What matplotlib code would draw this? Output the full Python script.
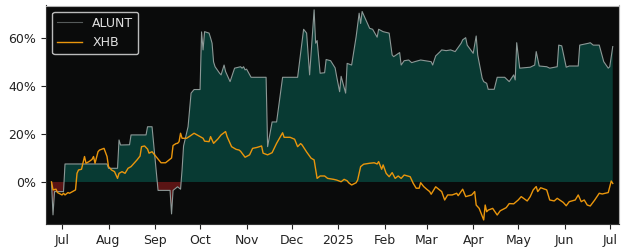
import numpy as np
import pandas as pd
import matplotlib
matplotlib.use("Agg")
from matplotlib import pyplot as plt
import matplotlib.dates as mdates
from matplotlib.ticker import FuncFormatter

# ALUNT cumulative return (%)
alunt_dates = [
    "2024-06-24", "2024-06-25", "2024-06-26", "2024-07-02", "2024-07-03", "2024-07-31",
    "2024-08-01", "2024-08-07", "2024-08-08", "2024-08-09", "2024-08-15", "2024-08-16",
    "2024-08-26", "2024-08-27", "2024-08-30", "2024-09-03", "2024-09-11", "2024-09-12",
    "2024-09-13", "2024-09-16", "2024-09-18", "2024-09-19", "2024-09-20", "2024-09-23",
    "2024-09-24", "2024-09-25", "2024-09-27", "2024-10-01", "2024-10-02", "2024-10-03",
    "2024-10-04", "2024-10-07", "2024-10-08", "2024-10-09", "2024-10-10", "2024-10-11",
    "2024-10-14", "2024-10-15", "2024-10-17", "2024-10-18", "2024-10-21", "2024-10-23",
    "2024-10-24", "2024-10-28", "2024-10-29", "2024-10-30", "2024-10-31", "2024-11-01",
    "2024-11-04", "2024-11-14", "2024-11-15", "2024-11-18", "2024-11-21", "2024-11-25",
    "2024-12-05", "2024-12-09", "2024-12-11", "2024-12-13", "2024-12-16", "2024-12-17",
    "2024-12-18", "2024-12-20", "2024-12-23", "2024-12-24", "2024-12-27", "2024-12-30",
    "2024-12-31", "2025-01-02", "2025-01-03", "2025-01-06", "2025-01-07", "2025-01-10",
    "2025-01-13", "2025-01-15", "2025-01-16", "2025-01-17", "2025-01-22", "2025-01-24",
    "2025-01-27", "2025-01-28", "2025-01-31", "2025-02-04", "2025-02-06", "2025-02-07",
    "2025-02-11", "2025-02-12", "2025-02-14", "2025-02-17", "2025-02-19", "2025-02-21",
    "2025-02-25", "2025-02-28", "2025-03-04", "2025-03-05", "2025-03-07", "2025-03-10",
    "2025-03-11", "2025-03-14", "2025-03-17", "2025-03-20", "2025-03-24", "2025-03-25",
    "2025-03-27", "2025-03-28", "2025-04-01", "2025-04-03", "2025-04-04", "2025-04-07",
    "2025-04-08", "2025-04-10", "2025-04-11", "2025-04-15", "2025-04-17", "2025-04-22",
    "2025-04-25", "2025-04-28", "2025-04-29", "2025-04-30", "2025-05-02", "2025-05-09",
    "2025-05-12", "2025-05-13", "2025-05-15", "2025-05-20", "2025-05-22", "2025-05-27",
    "2025-05-28", "2025-05-30", "2025-06-02", "2025-06-04", "2025-06-10", "2025-06-11",
    "2025-06-17", "2025-06-18", "2025-06-20", "2025-06-24", "2025-06-27", "2025-06-30",
    "2025-07-01", "2025-07-03",
]
alunt_vals = [
    0, -13.7, -4, -4, 7.5, 7.5,
    5.7, 5.7, 17.5, 15.4, 15.5, 19.6,
    19.6, 23, 23, -3.5, -3.5, -13.3,
    -3.5, -2, -3, 5, 15, 23,
    30, 37, 38.5, 38.5, 62.5, 55,
    62.6, 62, 60, 57.8, 50, 48,
    45.3, 44.6, 48.7, 46, 41.8, 45.5,
    47.4, 48, 47.4, 48, 46.7, 47,
    43.6, 43.6, 14.7, 25, 25, 43.6,
    43.6, 63.6, 62, 44.6, 71.7, 57.8,
    58.9, 45.3, 45.5, 51, 50.5, 47.5,
    44, 37.6, 44, 37, 49.4, 48.7,
    60.5, 70.3, 66, 71, 64, 63.6,
    60.3, 63.6, 62.6, 62, 52.9, 52.2,
    53.9, 48.7, 50.5, 50.8, 49.7, 50.1,
    50.8, 50.5, 50.1, 48.7, 52.5, 54.3,
    55, 54.7, 55, 54.3, 57.8, 59.2,
    60.1, 57, 53.6, 60.8, 52.9, 43.2,
    41.8, 41.1, 38.6, 38.6, 43.6, 43.6,
    41.8, 44.6, 42.5, 58, 47.4, 47.8,
    48.7, 54.3, 48.3, 48, 47.4, 48,
    57, 56.7, 47.8, 48.3, 48.3, 57,
    57.8, 58, 57, 57, 50.1, 47.4,
    48, 56.4,
]

# XHB cumulative return (%)
xhb_dates = [
    "2024-06-24", "2024-06-25", "2024-06-27", "2024-06-28", "2024-07-01", "2024-07-02",
    "2024-07-03", "2024-07-05", "2024-07-06", "2024-07-08", "2024-07-10", "2024-07-11",
    "2024-07-12", "2024-07-14", "2024-07-16", "2024-07-17", "2024-07-19", "2024-07-21",
    "2024-07-22", "2024-07-23", "2024-07-25", "2024-07-26", "2024-07-29", "2024-07-31",
    "2024-08-01", "2024-08-03", "2024-08-05", "2024-08-07", "2024-08-08", "2024-08-10",
    "2024-08-12", "2024-08-14", "2024-08-16", "2024-08-18", "2024-08-20", "2024-08-22",
    "2024-08-23", "2024-08-25", "2024-08-27", "2024-08-28", "2024-08-30", "2024-09-02",
    "2024-09-05", "2024-09-08", "2024-09-09", "2024-09-12", "2024-09-13", "2024-09-15",
    "2024-09-16", "2024-09-17", "2024-09-18", "2024-09-19", "2024-09-22", "2024-09-24",
    "2024-09-27", "2024-09-29", "2024-10-03", "2024-10-04", "2024-10-07", "2024-10-08",
    "2024-10-10", "2024-10-13", "2024-10-15", "2024-10-18", "2024-10-19", "2024-10-22",
    "2024-10-25", "2024-10-27", "2024-10-28", "2024-10-31", "2024-11-03", "2024-11-05",
    "2024-11-08", "2024-11-11", "2024-11-12", "2024-11-15", "2024-11-18", "2024-11-21",
    "2024-11-25", "2024-11-26", "2024-11-30", "2024-12-03", "2024-12-05", "2024-12-07",
    "2024-12-08", "2024-12-11", "2024-12-14", "2024-12-16", "2024-12-18", "2024-12-20",
    "2024-12-23", "2024-12-25", "2024-12-29", "2024-12-31", "2025-01-03", "2025-01-05",
    "2025-01-07", "2025-01-08", "2025-01-10", "2025-01-13", "2025-01-14", "2025-01-16",
    "2025-01-18", "2025-01-22", "2025-01-25", "2025-01-27", "2025-01-28", "2025-01-30",
    "2025-01-31", "2025-02-02", "2025-02-04", "2025-02-06", "2025-02-08", "2025-02-10",
    "2025-02-12", "2025-02-14", "2025-02-18", "2025-02-20", "2025-02-22", "2025-02-24",
    "2025-02-25", "2025-02-27", "2025-03-01", "2025-03-03", "2025-03-04", "2025-03-07",
    "2025-03-11", "2025-03-13", "2025-03-15", "2025-03-18", "2025-03-21", "2025-03-22",
    "2025-03-25", "2025-03-27", "2025-03-31", "2025-04-02", "2025-04-03", "2025-04-05",
    "2025-04-08", "2025-04-09", "2025-04-10", "2025-04-11", "2025-04-14", "2025-04-17",
    "2025-04-19", "2025-04-23", "2025-04-25", "2025-04-28", "2025-05-01", "2025-05-03",
    "2025-05-07", "2025-05-09", "2025-05-11", "2025-05-13", "2025-05-14", "2025-05-16",
    "2025-05-20", "2025-05-22", "2025-05-25", "2025-05-27", "2025-05-31", "2025-06-02",
    "2025-06-04", "2025-06-08", "2025-06-10", "2025-06-12", "2025-06-14", "2025-06-16",
    "2025-06-18", "2025-06-21", "2025-06-24", "2025-06-26", "2025-06-30", "2025-07-02",
    "2025-07-03",
]
xhb_vals = [
    0, -3.3, -3, -4.4, -5.4, -4.7,
    -5.4, -4.4, -4.7, -4, -3.3, 3.6,
    5, 5.3, 10.6, 7.8, 8.5, 9.4,
    10.6, 7.8, 12.6, 13.3, 14, 10.6,
    6.4, 5, 4.3, 1.5, 3.6, 4.3,
    3.6, 5.7, 6.4, 7.8, 9.2, 10.8,
    14.7, 15, 13.7, 12, 12.6, 10.3,
    8, 8, 8.5, 10, 15.2, 16,
    16.1, 16.8, 20.3, 18.2, 18.2, 19,
    20.3, 19.6, 18.2, 17, 16.8, 18.9,
    16.1, 18, 19.6, 21, 18.9, 14.7,
    13.6, 13.3, 12.8, 10.3, 11.3, 14,
    14.4, 15, 12, 11.3, 12.2, 16.1,
    20.5, 18.6, 18.6, 17.8, 14.7, 16,
    15.4, 12.5, 9.9, 9.2, 1.5, 2.5,
    2.5, 1.5, 1.1, 0.8, 0.1, 1.1,
    0.5, -0.3, -1.25, -0.3, 0.8, 6.4,
    7.4, 7.8, 8, 7.5, 8.5, 5.3,
    7.1, 3.6, 2.2, 3.9, 1.5, 2.5,
    1.5, 2.9, 2.2, -0.5, -2.6, -2.6,
    -0.3, -1.9, -3, -4, -5.1, -2,
    -4, -7.5, -5.4, -5.4, -4.7, -5.7,
    -3, -6.1, -5.4, -4, -9.6, -11,
    -15.8, -9.6, -12.4, -11.7, -11, -13.75,
    -12, -10.7, -9, -9.1, -7.5, -6.1,
    -7.9, -6.1, -3.3, -1.9, -4, -2.4,
    -3.3, -7.5, -7.9, -6.8, -8.5, -9.9,
    -8.2, -7.5, -5.4, -8.2, -7.5, -9.6,
    -10, -7.5, -4.7, -5, -4.4, 0.4,
    -0.6,
]

a_x = pd.to_datetime(alunt_dates)
a_y = np.array(alunt_vals, dtype=float)
x_x = pd.to_datetime(xhb_dates)
x_y = np.array(xhb_vals, dtype=float)

fig = plt.figure(figsize=(6.25, 2.5), dpi=100)
ax = fig.add_axes([0.0736, 0.104, 0.9164, 0.874])
ax.set_facecolor("#0a0b0b")

ax.fill_between(a_x, a_y, 0, where=a_y >= 0, interpolate=True,
                color="#083a33", linewidth=0)
ax.fill_between(a_x, a_y, 0, where=a_y < 0, interpolate=True,
                color="#5a1414", linewidth=0)
ax.plot(a_x, a_y, color="#8c9896", linewidth=0.8, label="ALUNT")
ax.plot(x_x, x_y, color="#ea960c", linewidth=1.0, label="XHB")

ax.set_xlim(pd.Timestamp("2024-06-20 08:00"), pd.Timestamp("2025-07-07"))
ax.set_ylim(-17.5, 73.5)
ax.set_yticks([0, 20, 40, 60])
ax.yaxis.set_major_formatter(FuncFormatter(lambda v, p: f"{v:.0f}%"))
ax.xaxis.set_major_locator(mdates.MonthLocator())
ax.xaxis.set_major_formatter(FuncFormatter(
    lambda v, p: mdates.num2date(v).strftime("%Y" if mdates.num2date(v).month == 1 else "%b")))
ax.tick_params(labelsize=9, colors="#222222")

for s in ["left", "bottom"]:
    ax.spines[s].set_color("#333333")
for s in ["top", "right"]:
    ax.spines[s].set_color("#b0b0b0")

leg = ax.legend(loc="upper left", fontsize=9, facecolor="#0a0b0b",
                edgecolor="#bbbbbb", framealpha=1)
for t in leg.get_texts():
    t.set_color("#e0e0e0")
leg.get_lines()[0].set_color("#555a5a")

fig.savefig("out.png", dpi=100)
